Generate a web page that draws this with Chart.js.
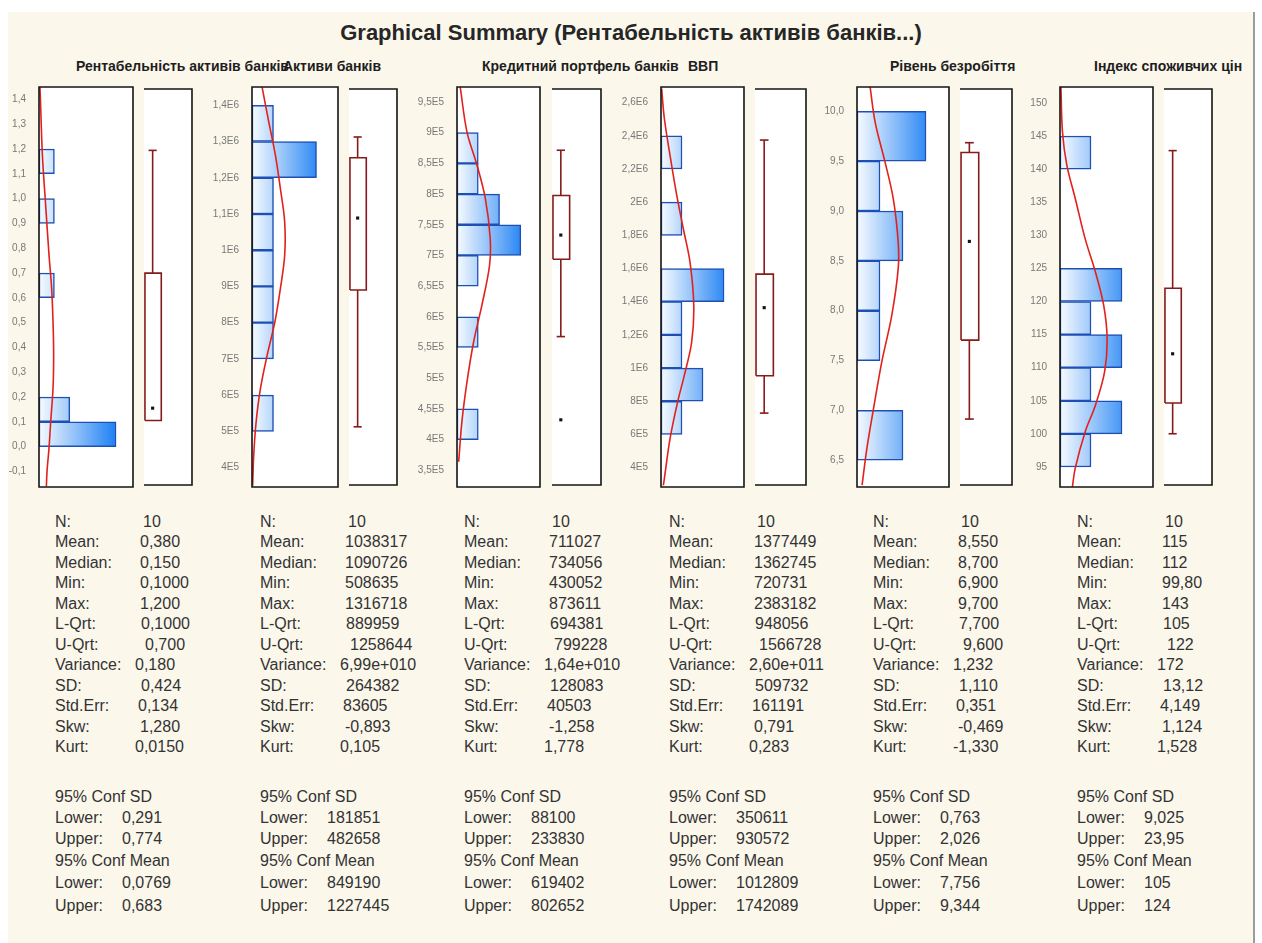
<!DOCTYPE html>
<html>
<head>
<meta charset="utf-8">
<script src="https://cdn.jsdelivr.net/npm/chart.js@4"></script>
<style>
  body { margin: 0; width: 1262px; height: 943px; overflow: hidden; background: #fff;
         font-family: "Liberation Sans", Arial, sans-serif; position: relative; }
  #sheet { position: absolute; left: 8px; top: 12px; width: 1245px; height: 931px;
           background: #fbf7eb; border-right: 2px solid #9c9c9c; }
  .t { position: absolute; white-space: nowrap; color: #2b2b2b; }
  #title { left: 0; width: 1262px; top: 20px; text-align: center; font-weight: bold; font-size: 22px; color: #262626; }
  .sub { font-weight: bold; font-size: 14px; top: 58px; color: #1e1e1e; }
  .st { font-size: 16px; line-height: 20px; color: #333; }
  canvas { position: absolute; }
</style>
</head>
<body>
<div id="sheet"></div>
<div class="t" id="title">Graphical Summary (Рентабельність активів банків...)</div>
<div id="root"></div>
<script>
// ---- data ----
const columnTitles = ['Рентабельність активів банків', 'Активи банків', 'Кредитний портфель банків',
                      'ВВП', 'Рівень безробіття', 'Індекс споживчих цін'];

// histogram bins (lower edge), bin widths and counts
const binLo1 = [0, 0.1, 0.6, 0.9, 1.1];
const binLo2 = [5e5, 7e5, 8e5, 9e5, 1e6, 1.1e6, 1.2e6, 1.3e6];
const binLo3 = [4e5, 5.5e5, 6.5e5, 7e5, 7.5e5, 8e5, 8.5e5];
const binLo4 = [6e5, 8e5, 1e6, 1.2e6, 1.4e6, 1.8e6, 2.2e6];
const binLo5 = [6.5, 7.5, 8.0, 8.5, 9.0, 9.5];
const binLo6 = [95, 100, 105, 110, 115, 120, 140];
const binWidths = [0.1, 1e5, 0.5e5, 2e5, 0.5, 5];
const counts1 = [5, 2, 1, 1, 1];
const counts2 = [1, 1, 1, 1, 1, 1, 3, 1];
const counts3 = [1, 1, 1, 3, 2, 1, 1];
const counts4 = [1, 2, 1, 1, 3, 1, 1];
const counts5 = [2, 1, 1, 2, 1, 3];
const counts6 = [1, 2, 1, 2, 1, 2, 1];

// fitted normal curve: values and heights (in counts)
const curveV1 = [1.45, 1.405, 1.176, 0.975, 0.773, 0.639, 0.504, 0.37, 0.235, 0.10, -0.006, -0.10, -0.16];
const curveN1 = [0.06, 0.09, 0.22, 0.43, 0.65, 0.82, 0.91, 0.95, 0.91, 0.76, 0.65, 0.52, 0.48];
const curveV2 = [1.45e6, 1.354e6, 1.262e6, 1.17e6, 1.078e6, 0.986e6, 0.894e6, 0.801e6, 0.709e6, 0.617e6, 0.525e6, 0.434e6, 0.35e6];
const curveN2 = [0.47, 0.78, 1.09, 1.32, 1.52, 1.52, 1.32, 1.06, 0.70, 0.39, 0.19, 0.08, 0.03];
const curveV3 = [9.744e5, 9.01e5, 8.47e5, 7.93e5, 7.28e5, 6.84e5, 6.19e5, 5.59e5, 4.94e5, 4.29e5, 3.64e5];
const curveN3 = [0.15, 0.47, 0.94, 1.33, 1.56, 1.53, 1.17, 0.78, 0.47, 0.23, 0.08];
const curveV4 = [2.684e6, 2.504e6, 2.282e6, 2.041e6, 1.841e6, 1.639e6, 1.378e6, 1.157e6, 0.956e6, 0.795e6, 0.575e6, 0.334e6, 0.293e6];
const curveN4 = [0.03, 0.16, 0.43, 0.75, 1.06, 1.38, 1.56, 1.46, 1.11, 0.79, 0.43, 0.16, 0.11];
const curveV5 = [10.244, 9.89, 9.49, 9.12, 8.69, 8.42, 7.95, 7.49, 7.02, 6.62, 6.25];
const curveN5 = [0.57, 0.79, 1.22, 1.58, 1.79, 1.79, 1.51, 1.08, 0.72, 0.43, 0.22];
const curveV6 = [152.4, 145.6, 140.6, 135.6, 129.5, 124.5, 119.4, 114.4, 109.4, 104.3, 100.3, 94.8, 92.0];
const curveN6 = [0.03, 0.08, 0.22, 0.49, 0.81, 1.14, 1.41, 1.52, 1.44, 1.14, 0.81, 0.49, 0.40];

// box plots
const whiskLo = [0.1, 508635, 567000, 720731, 6.9, 99.8];
const qLow    = [0.1, 889959, 694381, 948056, 7.7, 104.5];
const medians = [0.15, 1090726, 734056, 1362745, 8.7, 112];
const qHigh   = [0.7, 1258644, 799228, 1566728, 9.6, 122];
const whiskHi = [1.2, 1316718, 873611, 2383182, 9.7, 143];
const outliers = [[], [], [430052], [], [], []];

// y tick labels, top to bottom
const ticks1 = ['1,4', '1,3', '1,2', '1,1', '1,0', '0,9', '0,8', '0,7', '0,6', '0,5', '0,4', '0,3', '0,2', '0,1', '0,0', '-0,1'];
const ticks2 = ['1,4E6', '1,3E6', '1,2E6', '1,1E6', '1E6', '9E5', '8E5', '7E5', '6E5', '5E5', '4E5'];
const ticks3 = ['9,5E5', '9E5', '8,5E5', '8E5', '7,5E5', '7E5', '6,5E5', '6E5', '5,5E5', '5E5', '4,5E5', '4E5', '3,5E5'];
const ticks4 = ['2,6E6', '2,4E6', '2,2E6', '2E6', '1,8E6', '1,6E6', '1,4E6', '1,2E6', '1E6', '8E5', '6E5', '4E5'];
const ticks5 = ['10,0', '9,5', '9,0', '8,5', '8,0', '7,5', '7,0', '6,5'];
const ticks6 = ['150', '145', '140', '135', '130', '125', '120', '115', '110', '105', '100', '95'];

// axis ranges as seen in the frames
const yMin = [-0.163, 3.464e5, 3.228e5, 2.83e5, 6.232, 91.98];
const yMax = [1.45, 1.4505e6, 9.744e5, 2.694e6, 10.244, 152.4];
const countMax = [6.1, 4.0, 3.9, 3.95, 4.0, 3.0];

// descriptive statistics
const statLabels = ['N:', 'Mean:', 'Median:', 'Min:', 'Max:', 'L-Qrt:', 'U-Qrt:', 'Variance:', 'SD:', 'Std.Err:', 'Skw:', 'Kurt:'];
const stats1 = ['10', '0,380', '0,150', '0,1000', '1,200', '0,1000', '0,700', '0,180', '0,424', '0,134', '1,280', '0,0150'];
const stats2 = ['10', '1038317', '1090726', '508635', '1316718', '889959', '1258644', '6,99e+010', '264382', '83605', '-0,893', '0,105'];
const stats3 = ['10', '711027', '734056', '430052', '873611', '694381', '799228', '1,64e+010', '128083', '40503', '-1,258', '1,778'];
const stats4 = ['10', '1377449', '1362745', '720731', '2383182', '948056', '1566728', '2,60e+011', '509732', '161191', '0,791', '0,283'];
const stats5 = ['10', '8,550', '8,700', '6,900', '9,700', '7,700', '9,600', '1,232', '1,110', '0,351', '-0,469', '-1,330'];
const stats6 = ['10', '115', '112', '99,80', '143', '105', '122', '172', '13,12', '4,149', '1,124', '1,528'];
const confLabels = ['95% Conf SD', 'Lower:', 'Upper:', '95% Conf Mean', 'Lower:', 'Upper:'];
const conf1 = ['0,291', '0,774', '0,0769', '0,683'];
const conf2 = ['181851', '482658', '849190', '1227445'];
const conf3 = ['88100', '233830', '619402', '802652'];
const conf4 = ['350611', '930572', '1012809', '1742089'];
const conf5 = ['0,763', '2,026', '7,756', '9,344'];
const conf6 = ['9,025', '23,95', '105', '124'];

// ---- layout ----
const panels = [
  { hx: 39,   hw: 94, bx: 142,  bw: 52, subX: 76 },
  { hx: 252,  hw: 86, bx: 347,  bw: 52, subX: 283 },
  { hx: 457,  hw: 83, bx: 550,  bw: 53, subX: 482 },
  { hx: 661,  hw: 83, bx: 753,  bw: 55, subX: 688 },
  { hx: 857,  hw: 92, bx: 958,  bw: 56, subX: 890 },
  { hx: 1060, hw: 93, bx: 1162, bw: 52, subX: 1094 }
];
const frameTop = 87, frameH = 400, axisW = 44;
const statX = [55, 260, 464, 669, 873, 1077];
const statRowY = 512, statRowH = 20.45;
const statValOff = [88, 85, 85, 85, 85, 86, 90, 80, 86, 83, 85, 80];
const confRowY = [787, 808, 829, 851, 873, 896];

const allBins = [binLo1, binLo2, binLo3, binLo4, binLo5, binLo6];
const allCounts = [counts1, counts2, counts3, counts4, counts5, counts6];
const allCurveV = [curveV1, curveV2, curveV3, curveV4, curveV5, curveV6];
const allCurveN = [curveN1, curveN2, curveN3, curveN4, curveN5, curveN6];
const allTicks = [ticks1, ticks2, ticks3, ticks4, ticks5, ticks6];
const allStats = [stats1, stats2, stats3, stats4, stats5, stats6];
const allConf = [conf1, conf2, conf3, conf4, conf5, conf6];

const root = document.getElementById('root');
const boxRed = '#861b1b';

// white plot background + black frame; 'open' leaves the left side off
const framePlugin = {
  id: 'frame',
  beforeDraw(chart, args, opts) {
    const a = chart.chartArea, ctx = chart.ctx;
    ctx.save();
    ctx.fillStyle = '#ffffff';
    ctx.fillRect(a.left, a.top, a.right - a.left, a.bottom - a.top);
    ctx.restore();
  },
  afterDraw(chart, args, opts) {
    const a = chart.chartArea, ctx = chart.ctx;
    ctx.save();
    ctx.strokeStyle = '#151515';
    ctx.lineWidth = 1.6;
    ctx.beginPath();
    if (opts.open) {
      ctx.moveTo(a.left, a.top); ctx.lineTo(a.right, a.top);
      ctx.lineTo(a.right, a.bottom); ctx.lineTo(a.left, a.bottom);
    } else {
      ctx.rect(a.left, a.top, a.right - a.left, a.bottom - a.top);
    }
    ctx.stroke();
    ctx.restore();
  }
};

function addCanvas(left, top, w, h) {
  const c = document.createElement('canvas');
  c.width = w; c.height = h;
  c.style.left = left + 'px'; c.style.top = top + 'px';
  c.style.width = w + 'px'; c.style.height = h + 'px';
  root.appendChild(c);
  return c;
}

function addText(cls, left, top, text) {
  const d = document.createElement('div');
  d.className = 't ' + cls;
  d.style.left = left + 'px';
  d.style.top = top + 'px';
  d.textContent = text;
  document.body.appendChild(d);
}

function barFill(ctx) {
  const a = ctx.chart.chartArea;
  if (!a) return '#8fc0f8';
  const g = ctx.chart.ctx.createLinearGradient(a.left, 0, a.right, 0);
  g.addColorStop(0, '#f7fbff');
  g.addColorStop(0.8, '#2383f3');
  g.addColorStop(1, '#1677ef');
  return g;
}

function histogram(i) {
  const p = panels[i];
  const tickPairs = allTicks[i]
    .map(s => ({ label: s, value: parseFloat(s.replace(',', '.')) }))
    .sort((a, b) => a.value - b.value);
  const canvas = addCanvas(p.hx - axisW, frameTop - 2, p.hw + axisW + 2, frameH + 4);
  new Chart(canvas, {
    type: 'bar',
    data: {
      datasets: [
        {
          type: 'line',
          order: 0,
          data: allCurveV[i].map((v, k) => ({ x: allCurveN[i][k], y: v })),
          borderColor: '#e2211c',
          borderWidth: 1.6,
          pointRadius: 0,
          tension: 0.35
        },
        {
          type: 'bar',
          order: 1,
          indexAxis: 'y',
          data: allBins[i].map((lo, k) => ({ y: lo + binWidths[i] / 2, x: allCounts[i][k] })),
          backgroundColor: barFill,
          borderColor: '#1d4fb4',
          borderWidth: 1.5,
          borderSkipped: false,
          barPercentage: 1,
          categoryPercentage: 1
        }
      ]
    },
    options: {
      responsive: false,
      animation: false,
      indexAxis: 'y',
      layout: { padding: { top: 2, bottom: 2, right: 2, left: 0 } },
      plugins: { legend: { display: false }, tooltip: { enabled: false }, frame: { open: false } },
      scales: {
        x: { type: 'linear', min: 0, max: countMax[i], offset: false, display: false },
        y: {
          type: 'linear', min: yMin[i], max: yMax[i], offset: false,
          grid: { display: false }, border: { display: false },
          afterBuildTicks: s => { s.ticks = tickPairs.map(t => ({ value: t.value })); },
          afterFit: s => { s.width = axisW; s.paddingTop = 0; s.paddingBottom = 0; },
          ticks: {
            autoSkip: false, padding: 5, color: '#787878',
            font: { size: 10, family: '"Liberation Sans", Arial, sans-serif' },
            callback: (v, k) => tickPairs[k] ? tickPairs[k].label : ''
          }
        }
      }
    },
    plugins: [framePlugin]
  });
}

function boxplot(i) {
  const p = panels[i];
  const c = 0.18, half = 0.085, bl = 0.02, br = 0.36;
  const line = pts => ({
    data: pts.map(q => ({ x: q[0], y: q[1] })),
    borderColor: boxRed, borderWidth: 1.6, pointRadius: 0, tension: 0, fill: false
  });
  const sets = [];
  if (whiskLo[i] < qLow[i]) {
    sets.push(line([[c, whiskLo[i]], [c, qLow[i]]]));
    sets.push(line([[c - half, whiskLo[i]], [c + half, whiskLo[i]]]));
  }
  sets.push(line([[c, qHigh[i]], [c, whiskHi[i]]]));
  sets.push(line([[c - half, whiskHi[i]], [c + half, whiskHi[i]]]));
  sets.push(line([[bl, qLow[i]], [br, qLow[i]], [br, qHigh[i]], [bl, qHigh[i]], [bl, qLow[i]]]));
  sets.push({
    data: [medians[i]].concat(outliers[i]).map(v => ({ x: c, y: v })),
    showLine: false, pointStyle: 'rect', pointRadius: 2.2,
    pointBackgroundColor: '#111', pointBorderColor: '#111', pointBorderWidth: 0
  });
  const canvas = addCanvas(p.bx - 2, frameTop - 2, p.bw + 4, frameH + 4);
  new Chart(canvas, {
    type: 'line',
    data: { datasets: sets },
    options: {
      responsive: false,
      animation: false,
      layout: { padding: 2 },
      plugins: { legend: { display: false }, tooltip: { enabled: false }, frame: { open: true } },
      scales: {
        x: { type: 'linear', min: 0, max: 1, display: false },
        y: { type: 'linear', min: yMin[i], max: yMax[i], display: false }
      }
    },
    plugins: [framePlugin]
  });
}

function statsColumn(i) {
  const x = statX[i];
  statLabels.forEach((lab, r) => {
    const top = statRowY + r * statRowH;
    addText('st', x, top, lab);
    addText('st', x + statValOff[r], top, allStats[i][r]);
  });
  confLabels.forEach((lab, r) => {
    addText('st', x, confRowY[r], lab);
  });
  [1, 2, 4, 5].forEach((r, k) => addText('st', x + 67, confRowY[r], allConf[i][k]));
}

for (let i = 0; i < 6; i++) {
  addText('sub', panels[i].subX, 58, columnTitles[i]);
  histogram(i);
  boxplot(i);
  statsColumn(i);
}
</script>
</body>
</html>
